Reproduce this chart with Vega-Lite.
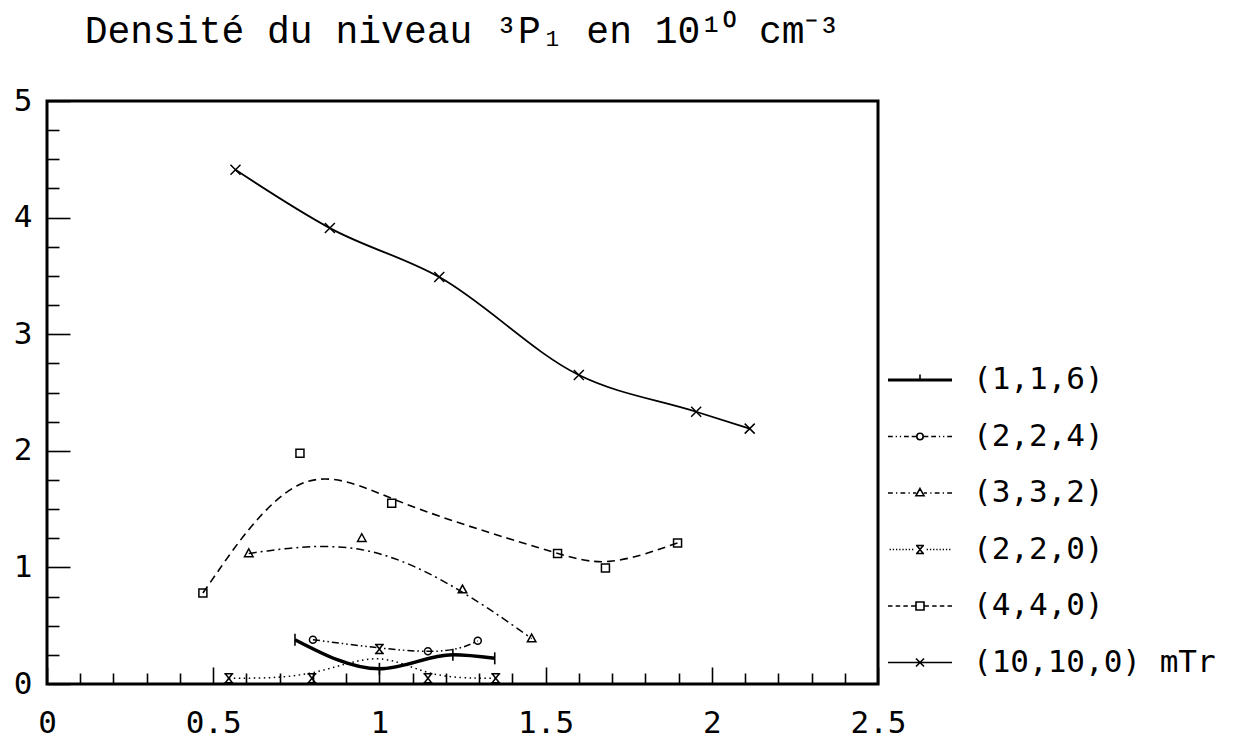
{
  "$schema": "https://vega.github.io/schema/vega-lite/v6.json",
  "width": 831,
  "height": 583,
  "autosize": {"type": "none"},
  "padding": {"left": 47, "top": 101, "right": 378, "bottom": 54},
  "background": "white",
  "config": {
    "view": {"stroke": "black", "strokeWidth": 3},
    "axis": {"grid": false, "domain": false, "tickColor": "black", "tickWidth": 1.6, "labelColor": "black", "labelFont": "DejaVu Sans Mono", "labelFontSize": 31, "labelOverlap": false, "labelFlush": false, "title": null}
  },
  "title": {
    "text": "Densité du niveau ³P₁ en 10¹⁰ cm⁻³",
    "font": "Liberation Mono",
    "fontSize": 38,
    "fontWeight": "normal",
    "color": "black",
    "anchor": "middle",
    "frame": "group",
    "baseline": "alphabetic",
    "offset": 4
  },
  "data": {
    "values": [
      {"series": "(10,10,0)", "x": 0.567, "y": 4.41},
      {"series": "(10,10,0)", "x": 0.851, "y": 3.91},
      {"series": "(10,10,0)", "x": 1.18, "y": 3.49},
      {"series": "(10,10,0)", "x": 1.6, "y": 2.65},
      {"series": "(10,10,0)", "x": 1.953, "y": 2.335},
      {"series": "(10,10,0)", "x": 2.114, "y": 2.19},
      {"series": "(4,4,0)", "x": 0.469, "y": 0.78},
      {"series": "(4,4,0)", "x": 0.761, "y": 1.98},
      {"series": "(4,4,0)", "x": 1.037, "y": 1.55},
      {"series": "(4,4,0)", "x": 1.536, "y": 1.12},
      {"series": "(4,4,0)", "x": 1.68, "y": 0.995},
      {"series": "(4,4,0)", "x": 1.897, "y": 1.21},
      {"series": "(3,3,2)", "x": 0.607, "y": 1.12},
      {"series": "(3,3,2)", "x": 0.947, "y": 1.25},
      {"series": "(3,3,2)", "x": 1.25, "y": 0.81},
      {"series": "(3,3,2)", "x": 1.458, "y": 0.39},
      {"series": "(1,1,6)", "x": 0.746, "y": 0.38},
      {"series": "(1,1,6)", "x": 1.0, "y": 0.13},
      {"series": "(1,1,6)", "x": 1.221, "y": 0.25},
      {"series": "(1,1,6)", "x": 1.347, "y": 0.22},
      {"series": "(2,2,4)", "x": 0.8, "y": 0.38},
      {"series": "(2,2,4)", "x": 1.146, "y": 0.28},
      {"series": "(2,2,4)", "x": 1.296, "y": 0.37},
      {"series": "(2,2,0)", "x": 0.547, "y": 0.05},
      {"series": "(2,2,0)", "x": 0.797, "y": 0.05},
      {"series": "(2,2,0)", "x": 1.0, "y": 0.3},
      {"series": "(2,2,0)", "x": 1.146, "y": 0.05},
      {"series": "(2,2,0)", "x": 1.35, "y": 0.05}
    ]
  },
  "encoding": {
    "x": {
      "field": "x", "type": "quantitative",
      "scale": {"domain": [0, 2.5], "nice": false, "zero": false},
      "axis": {
        "values": [0, 0.1, 0.2, 0.3, 0.4, 0.5, 0.6, 0.7, 0.8, 0.9, 1, 1.1, 1.2, 1.3, 1.4, 1.5, 1.6, 1.7, 1.8, 1.9, 2, 2.1, 2.2, 2.3, 2.4, 2.5],
        "tickSize": {"condition": {"test": "abs(datum.value*2-round(datum.value*2))<0.001", "value": -17}, "value": -11},
        "labelExpr": "abs(datum.value*2-round(datum.value*2))<0.001 ? toString(datum.value) : ''",
        "labelPadding": 41
      }
    },
    "y": {
      "field": "y", "type": "quantitative",
      "scale": {"domain": [0, 5], "nice": false, "zero": false},
      "axis": {
        "values": [0, 0.25, 0.5, 0.75, 1, 1.25, 1.5, 1.75, 2, 2.25, 2.5, 2.75, 3, 3.25, 3.5, 3.75, 4, 4.25, 4.5, 4.75, 5],
        "tickSize": {"condition": {"test": "abs(datum.value-round(datum.value))<0.001", "value": -23}, "value": -12},
        "labelExpr": "abs(datum.value-round(datum.value))<0.001 ? toString(datum.value) : ''",
        "labelPadding": 38
      }
    }
  },
  "layer": [
    {
      "transform": [{"filter": {"field": "series", "equal": "(10,10,0)"}}],
      "mark": {"type": "line", "interpolate": "monotone", "color": "black", "strokeWidth": 1.8}
    },
    {
      "transform": [{"filter": {"field": "series", "equal": "(1,1,6)"}}],
      "mark": {"type": "line", "interpolate": "monotone", "color": "black", "strokeWidth": 3.5}
    },
    {
      "transform": [{"filter": {"field": "series", "equal": "(4,4,0)"}}],
      "mark": {"type": "line", "interpolate": "basis", "color": "black", "strokeWidth": 1.6, "strokeDash": [8, 5]}
    },
    {
      "transform": [{"filter": {"field": "series", "equal": "(3,3,2)"}}],
      "mark": {"type": "line", "interpolate": "basis", "color": "black", "strokeWidth": 1.5, "strokeDash": [8, 4, 2, 4]}
    },
    {
      "transform": [{"filter": {"field": "series", "equal": "(2,2,0)"}}],
      "mark": {"type": "line", "interpolate": "basis", "color": "black", "strokeWidth": 1.5, "strokeDash": [1.5, 3.5]}
    },
    {
      "transform": [{"filter": {"field": "series", "equal": "(2,2,4)"}}],
      "mark": {"type": "line", "interpolate": "natural", "color": "black", "strokeWidth": 1.5, "strokeDash": [7, 3, 1.5, 3, 1.5, 3]}
    },
    {
      "transform": [{"filter": {"field": "series", "equal": "(1,1,6)"}}],
      "mark": {"type": "point", "shape": "M0,-1.2V1.2", "filled": false, "color": "black", "strokeWidth": 1.6, "opacity": 1, "size": 100}
    },
    {
      "transform": [{"filter": {"field": "series", "equal": "(2,2,4)"}}],
      "mark": {"type": "point", "shape": "M0.7,0A0.7,0.7 0 1,1 -0.7,0A0.7,0.7 0 1,1 0.7,0", "filled": false, "color": "black", "strokeWidth": 1.5, "opacity": 1, "size": 100}
    },
    {
      "transform": [{"filter": {"field": "series", "equal": "(3,3,2)"}}],
      "mark": {"type": "point", "shape": "M0,-0.9L0.85,0.65H-0.85Z", "filled": false, "color": "black", "strokeWidth": 1.5, "opacity": 1, "size": 100}
    },
    {
      "transform": [{"filter": {"field": "series", "equal": "(2,2,0)"}}],
      "mark": {"type": "point", "shape": "M-0.9,-0.9H0.9M-0.9,0.9H0.9M-0.7,-0.9L0.7,0.9M0.7,-0.9L-0.7,0.9", "filled": false, "color": "black", "strokeWidth": 1.5, "opacity": 1, "size": 100}
    },
    {
      "transform": [{"filter": {"field": "series", "equal": "(4,4,0)"}}],
      "mark": {"type": "point", "shape": "M-0.8,-0.8H0.8V0.8H-0.8Z", "filled": false, "color": "black", "strokeWidth": 1.5, "opacity": 1, "size": 100}
    },
    {
      "transform": [{"filter": {"field": "series", "equal": "(10,10,0)"}}],
      "mark": {"type": "point", "shape": "M-1,-1L1,1M1,-1L-1,1", "filled": false, "color": "black", "strokeWidth": 1.5, "opacity": 1, "size": 100}
    },
    {
      "mark": {"type": "point", "filled": false, "color": "black", "strokeWidth": 1.5, "opacity": 0, "size": 100},
      "encoding": {
        "shape": {
          "field": "series", "type": "nominal",
          "scale": {"domain": ["(1,1,6)", "(2,2,4)", "(3,3,2)", "(2,2,0)", "(4,4,0)", "(10,10,0)"],
                    "range": [
                      "M-2,-0.05H2M-2,0.05H2M0,-0.35V0.06",
                      "M-2,0H-1.7M-1.52,0H-1.44M-1.26,0H-1.18M-1,0H-0.7M-0.52,0H-0.2M0.2,0A0.2,0.2 0 1,1 -0.2,0A0.2,0.2 0 1,1 0.2,0M0.2,0H0.52M0.7,0H1M1.18,0H1.26M1.44,0H1.52M1.7,0H2",
                      "M-2,0H-1.7M-1.5,0H-1.42M-1.22,0H-0.92M-0.72,0H-0.64M-0.44,0H-0.24M0,-0.28L0.25,0.17H-0.25ZM0.24,0H0.44M0.64,0H0.72M0.92,0H1.22M1.42,0H1.5M1.7,0H2",
                      "M-1.9,0H-1.82M-1.7,0H-1.62M-1.5,0H-1.42M-1.3,0H-1.22M-1.1,0H-1.02M-0.9,0H-0.82M-0.7,0H-0.62M-0.5,0H-0.42M-0.25,-0.25H0.25M-0.25,0.25H0.25M-0.2,-0.25L0.2,0.25M0.2,-0.25L-0.2,0.25M0.42,0H0.5M0.62,0H0.7M0.82,0H0.9M1.02,0H1.1M1.22,0H1.3M1.42,0H1.5M1.62,0H1.7M1.82,0H1.9",
                      "M-2,0H-1.72M-1.52,0H-1.24M-1.04,0H-0.76M-0.56,0H-0.25M-0.25,-0.25H0.25V0.25H-0.25ZM0.25,0H0.56M0.76,0H1.04M1.24,0H1.52M1.72,0H2",
                      "M-2,0H2M-0.25,-0.25L0.25,0.25M0.25,-0.25L-0.25,0.25"
                    ]},
          "legend": {
            "title": null,
            "orient": "none",
            "legendX": 856,
            "legendY": 262,
            "padding": 0,
            "rowPadding": 24.5,
            "symbolSize": 1024,
            "symbolStrokeWidth": 1.6,
            "symbolStrokeColor": "black",
            "symbolOpacity": 1,
            "labelFont": "DejaVu Sans Mono",
            "labelFontSize": 31,
            "labelColor": "black",
            "labelOffset": 36,
            "labelLimit": 400,
            "labelExpr": "datum.value === '(10,10,0)' ? '(10,10,0) mTr' : datum.value"
          }
        }
      }
    }
  ]
}
